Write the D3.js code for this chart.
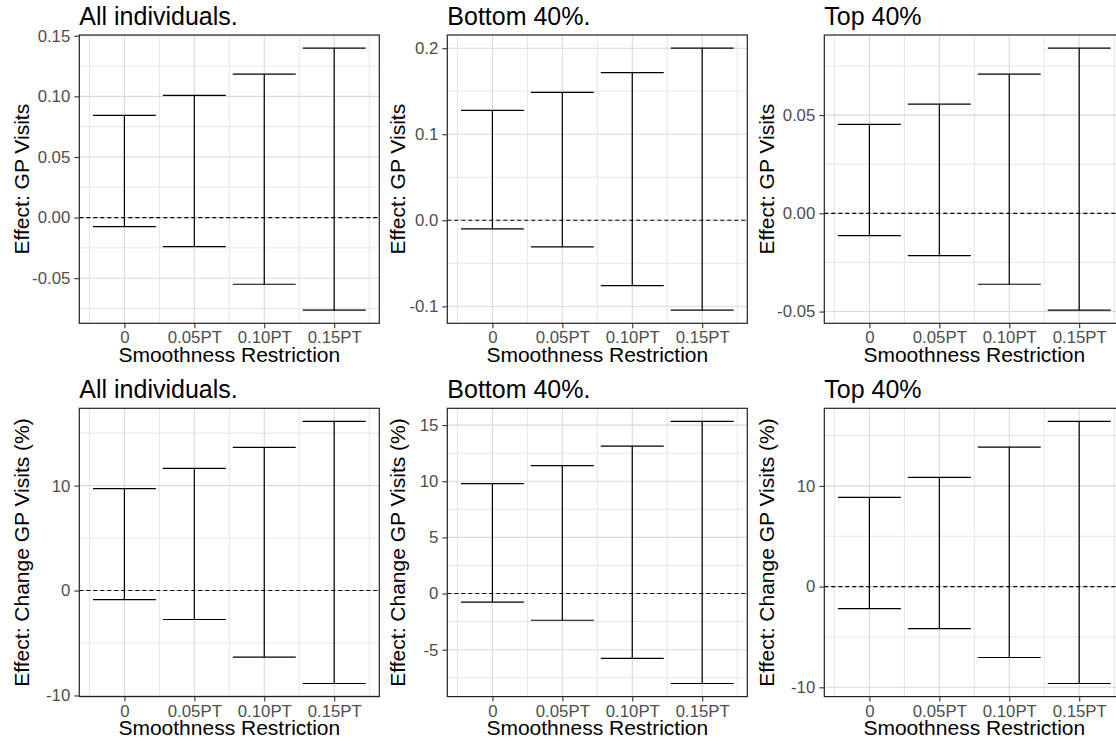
<!DOCTYPE html>
<html>
<head>
<meta charset="utf-8">
<script src="https://cdn.jsdelivr.net/npm/d3@7"></script>
<style>
  body { margin: 0; background: #fff; }
  text { font-family: "Liberation Sans", Arial, sans-serif; }
</style>
</head>
<body>
<div id="chart"></div>
<script>
const width = 1116;
const height = 742;

// ---- data ----
const categories = ["0", "0.05PT", "0.10PT", "0.15PT"];
const titles = ["All individuals.", "Bottom 40%.", "Top 40%"];
const yTitles = ["Effect: GP Visits", "Effect: Change GP Visits (%)"];

const gpAllLower = [-0.0074, -0.0239, -0.055, -0.0764];
const gpAllUpper = [0.0843, 0.1008, 0.1183, 0.1398];
const gpBottomLower = [-0.0101, -0.031, -0.0759, -0.1045];
const gpBottomUpper = [0.1278, 0.1487, 0.1715, 0.2001];
const gpTopLower = [-0.0113, -0.0215, -0.0361, -0.0493];
const gpTopUpper = [0.0453, 0.0556, 0.0709, 0.0841];

const pctAllLower = [-0.86, -2.76, -6.35, -8.86];
const pctAllUpper = [9.71, 11.65, 13.65, 16.12];
const pctBottomLower = [-0.77, -2.38, -5.78, -8.01];
const pctBottomUpper = [9.79, 11.39, 13.13, 15.33];
const pctTopLower = [-2.18, -4.17, -7.04, -9.62];
const pctTopUpper = [8.86, 10.84, 13.85, 16.4];

const yTicksGpAll = [-0.05, 0, 0.05, 0.1, 0.15];
const yTicksGpBottom = [-0.1, 0, 0.1, 0.2];
const yTicksGpTop = [-0.05, 0, 0.05];
const yTicksPctAll = [-10, 0, 10];
const yTicksPctBottom = [-5, 0, 5, 10, 15];
const yTicksPctTop = [-10, 0, 10];

// ---- layout ----
const colLeft = [79.3, 447.3, 824.3];
const rowTop = [35, 408.3];
const panelW = 300;
const panelH = 288.3;
const yTitleX = [28.7, 405, 773.7];

const locale = d3.formatLocale({ decimal: ".", thousands: ",", grouping: [3], currency: ["$", ""], minus: "-" });

const panels = [
  { row: 0, col: 0, lower: gpAllLower, upper: gpAllUpper, ticks: yTicksGpAll, fmt: ".2f" },
  { row: 0, col: 1, lower: gpBottomLower, upper: gpBottomUpper, ticks: yTicksGpBottom, fmt: ".1f" },
  { row: 0, col: 2, lower: gpTopLower, upper: gpTopUpper, ticks: yTicksGpTop, fmt: ".2f" },
  { row: 1, col: 0, lower: pctAllLower, upper: pctAllUpper, ticks: yTicksPctAll, fmt: "d" },
  { row: 1, col: 1, lower: pctBottomLower, upper: pctBottomUpper, ticks: yTicksPctBottom, fmt: "d" },
  { row: 1, col: 2, lower: pctTopLower, upper: pctTopUpper, ticks: yTicksPctTop, fmt: "d" },
];

const svg = d3
  .select("#chart")
  .append("svg")
  .attr("width", width)
  .attr("height", height);

const barWidth = 0.9;
// x: continuous over category index, expanded 5% like ggplot
const xLo = -barWidth / 2, xHi = categories.length - 1 + barWidth / 2;
const xPad = (xHi - xLo) * 0.05;

panels.forEach((p, i) => {
  const left = colLeft[p.col];
  const top = rowTop[p.row];
  const g = svg.append("g").attr("transform", "translate(" + left + "," + top + ")");

  const x = d3.scaleLinear().domain([xLo - xPad, xHi + xPad]).range([0, panelW]);

  const lo = d3.min(p.lower), hi = d3.max(p.upper);
  const yPad = (hi - lo) * 0.05;
  const y = d3.scaleLinear().domain([lo - yPad, hi + yPad]).range([panelH, 0]);

  const clipId = "clip" + i;
  g.append("clipPath").attr("id", clipId)
    .append("rect").attr("width", panelW).attr("height", panelH);
  const inner = g.append("g").attr("clip-path", "url(#" + clipId + ")");

  // minor grid
  const step = p.ticks[1] - p.ticks[0];
  const minorY = [];
  for (let v = p.ticks[0] - step / 2; v <= p.ticks[p.ticks.length - 1] + step; v += step) {
    if (v > y.domain()[0] && v < y.domain()[1]) minorY.push(v);
  }
  const minorX = d3.range(categories.length + 1).map((k) => k - 0.5);
  inner.selectAll(".minor-y").data(minorY).enter().append("line")
    .attr("x1", 0).attr("x2", panelW)
    .attr("y1", (d) => y(d)).attr("y2", (d) => y(d))
    .attr("stroke", "#e6e6e6").attr("stroke-width", 1);
  inner.selectAll(".minor-x").data(minorX).enter().append("line")
    .attr("y1", 0).attr("y2", panelH)
    .attr("x1", (d) => x(d)).attr("x2", (d) => x(d))
    .attr("stroke", "#e6e6e6").attr("stroke-width", 1);

  // major grid
  inner.selectAll(".major-y").data(p.ticks).enter().append("line")
    .attr("x1", 0).attr("x2", panelW)
    .attr("y1", (d) => y(d)).attr("y2", (d) => y(d))
    .attr("stroke", "#d9d9d9").attr("stroke-width", 1.1);
  inner.selectAll(".major-x").data(categories).enter().append("line")
    .attr("y1", 0).attr("y2", panelH)
    .attr("x1", (d, k) => x(k)).attr("x2", (d, k) => x(k))
    .attr("stroke", "#d9d9d9").attr("stroke-width", 1.1);

  // zero line
  inner.append("line")
    .attr("x1", 0).attr("x2", panelW)
    .attr("y1", y(0)).attr("y2", y(0))
    .attr("stroke", "#000").attr("stroke-width", 1.1)
    .attr("stroke-dasharray", "4,3");

  // error bars
  const bars = inner.selectAll(".bar").data(categories).enter().append("g");
  bars.append("line")
    .attr("x1", (d, k) => x(k)).attr("x2", (d, k) => x(k))
    .attr("y1", (d, k) => y(p.upper[k])).attr("y2", (d, k) => y(p.lower[k]));
  bars.append("line")
    .attr("x1", (d, k) => x(k - barWidth / 2)).attr("x2", (d, k) => x(k + barWidth / 2))
    .attr("y1", (d, k) => y(p.upper[k])).attr("y2", (d, k) => y(p.upper[k]));
  bars.append("line")
    .attr("x1", (d, k) => x(k - barWidth / 2)).attr("x2", (d, k) => x(k + barWidth / 2))
    .attr("y1", (d, k) => y(p.lower[k])).attr("y2", (d, k) => y(p.lower[k]));
  bars.selectAll("line").attr("stroke", "#000").attr("stroke-width", 1.2);

  // border
  g.append("rect")
    .attr("width", panelW).attr("height", panelH)
    .attr("fill", "none").attr("stroke", "#222").attr("stroke-width", 1.2);

  // axes
  const yAxis = g.append("g")
    .call(d3.axisLeft(y).tickValues(p.ticks).tickSize(5).tickPadding(4)
      .tickFormat(locale.format(p.fmt)));
  yAxis.select(".domain").remove();
  yAxis.selectAll("line").attr("stroke", "#333").attr("stroke-width", 1.1);
  yAxis.selectAll("text").attr("fill", "#4d4d4d").style("font-size", "16.8px")
    .style("font-family", "'Liberation Sans', Arial, sans-serif");

  const xAxis = g.append("g")
    .attr("transform", "translate(0," + panelH + ")")
    .call(d3.axisBottom(x).tickValues(d3.range(categories.length)).tickSize(5).tickPadding(3)
      .tickFormat((d) => categories[d]));
  xAxis.select(".domain").remove();
  xAxis.selectAll("line").attr("stroke", "#333").attr("stroke-width", 1.1);
  xAxis.selectAll("text").attr("fill", "#4d4d4d").style("font-size", "16.8px")
    .style("font-family", "'Liberation Sans', Arial, sans-serif");

  // titles
  g.append("text")
    .attr("x", 0).attr("y", -10.5)
    .style("font-size", "25px")
    .attr("fill", "#000")
    .text(titles[p.col]);
  g.append("text")
    .attr("x", panelW / 2).attr("y", panelH + 38.4)
    .attr("text-anchor", "middle")
    .style("font-size", "21px")
    .attr("fill", "#000")
    .text("Smoothness Restriction");
  svg.append("text")
    .attr("transform", "translate(" + yTitleX[p.col] + "," + (top + panelH / 2) + ") rotate(-90)")
    .attr("text-anchor", "middle")
    .style("font-size", "21px")
    .attr("fill", "#000")
    .text(yTitles[p.row]);
});
</script>
</body>
</html>
